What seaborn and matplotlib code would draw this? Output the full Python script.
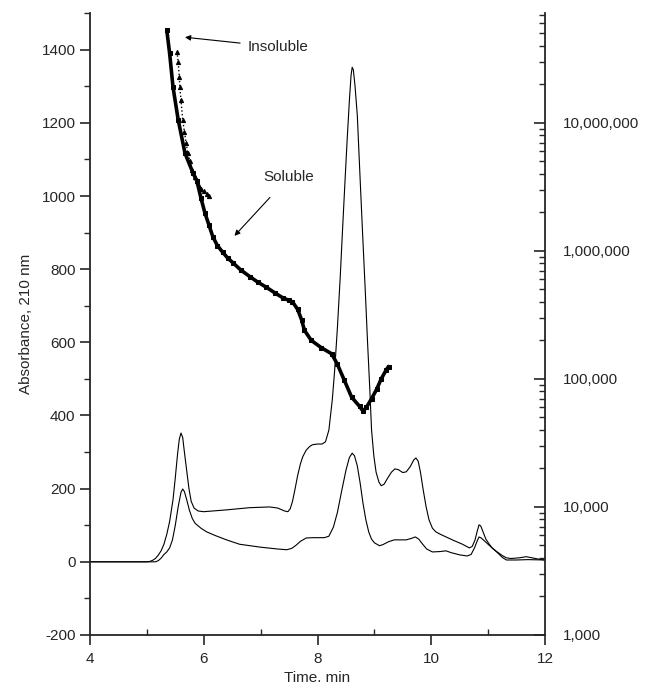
import numpy as np
import pandas as pd
import matplotlib
matplotlib.use("Agg")
import matplotlib.pyplot as plt
from matplotlib.ticker import MultipleLocator, LogLocator, FuncFormatter, NullFormatter
import seaborn as sns

# ---- chromatogram traces (left axis, absorbance 210 nm) ----
upper_time = [4.0, 5.0, 5.05, 5.1, 5.15, 5.2, 5.25, 5.3, 5.35, 5.4, 5.46, 5.5, 5.54, 5.57, 5.6,
              5.63, 5.66, 5.7, 5.74, 5.78, 5.83, 5.9, 6.0, 6.4, 6.81, 7.16, 7.3, 7.42, 7.48,
              7.52, 7.56, 7.6, 7.65, 7.7, 7.74, 7.8, 7.86, 7.91, 8.0, 8.08, 8.14, 8.2, 8.26,
              8.3, 8.35, 8.4, 8.44, 8.48, 8.52, 8.56, 8.59, 8.61, 8.63, 8.66, 8.7, 8.75, 8.79,
              8.84, 8.88, 8.92, 8.95, 8.99, 9.03, 9.08, 9.12, 9.17, 9.23, 9.3, 9.36, 9.42, 9.5,
              9.56, 9.63, 9.69, 9.73, 9.77, 9.81, 9.86, 9.91, 9.96, 10.02, 10.08, 10.15, 10.26,
              10.4, 10.55, 10.67, 10.72, 10.77, 10.81, 10.84, 10.87, 10.91, 10.96, 11.02, 11.07,
              11.15, 11.25, 11.32, 11.4, 11.55, 11.67, 11.8, 11.9, 12.0]
upper_abs = [0, 0, 1, 4, 9, 18, 30, 48, 75, 110, 170, 230, 295, 335, 352,
             340, 300, 250, 200, 165, 147, 139, 137, 142, 148, 150, 147, 139, 137,
             145, 165, 195, 235, 268, 287, 305, 315, 320, 322, 322, 328, 360, 443,
             520, 640, 780, 907, 1030, 1150, 1260, 1330, 1352, 1345, 1300, 1220, 1044, 907,
             740, 600, 470, 361, 290, 245, 218, 208, 212, 228, 245, 254, 252, 244,
             246, 260, 278, 284, 275, 245, 195, 150, 115, 92, 82, 76, 68,
             58, 48, 38, 42, 60, 85, 101, 98, 82, 62, 48, 38,
             28, 17, 11, 9, 11, 14, 10, 7, 5]

lower_time = [4.0, 5.15, 5.2, 5.25, 5.3, 5.35, 5.4, 5.45, 5.5, 5.55, 5.6, 5.63, 5.66, 5.7, 5.75,
              5.8, 5.85, 5.95, 6.05, 6.2, 6.4, 6.63, 7.0, 7.3, 7.46, 7.55, 7.62, 7.7, 7.8, 7.91,
              8.12, 8.2, 8.28, 8.35, 8.42, 8.5, 8.56, 8.61, 8.65, 8.7, 8.75, 8.8, 8.85, 8.9, 8.95,
              9.0, 9.09, 9.15, 9.25, 9.35, 9.45, 9.56, 9.65, 9.72, 9.78, 9.85, 9.92, 10.02, 10.15,
              10.26, 10.35, 10.5, 10.63, 10.7, 10.76, 10.81, 10.84, 10.88, 10.95, 11.02, 11.07,
              11.15, 11.25, 11.32, 11.5, 11.7, 12.0]
lower_abs = [0, 0, 3, 10, 20, 27, 38, 60, 100, 150, 190, 199, 192, 170, 140,
             118, 105, 92, 82, 72, 60, 48, 40, 35, 33, 37, 45, 56, 65, 66,
             66, 70, 95, 135, 190, 250, 285, 297, 290, 262, 215, 160, 115, 82, 62,
             52, 44, 47, 55, 60, 60, 60, 64, 68, 62, 48, 35, 27, 28,
             30, 25, 19, 16, 20, 38, 58, 68, 65, 55, 45, 38,
             27, 12, 5, 5, 6, 5]

# ---- molecular weight points (right axis, log scale) ----
soluble_time = [5.35, 5.40, 5.46, 5.55, 5.67, 5.81, 5.88, 5.95, 6.02, 6.09, 6.16, 6.24, 6.33,
                6.42, 6.51, 6.65, 6.81, 6.95, 7.1, 7.25, 7.39, 7.5, 7.56, 7.65, 7.72, 7.77,
                7.89, 8.07, 8.25, 8.35, 8.47, 8.6, 8.74, 8.8, 8.86, 8.95, 9.04, 9.12, 9.21, 9.25]
soluble_mw = [5.3e7, 3.5e7, 1.9e7, 1.06e7, 5.8e6, 4.07e6, 3.5e6, 2.6e6, 1.98e6, 1.6e6, 1.29e6,
              1.1e6, 9.8e5, 8.8e5, 8.1e5, 7.1e5, 6.3e5, 5.7e5, 5.2e5, 4.7e5, 4.3e5, 4.1e5,
              4.0e5, 3.5e5, 2.9e5, 2.4e5, 2.0e5, 1.75e5, 1.57e5, 1.3e5, 9.8e4, 7.2e4, 6.1e4,
              5.6e4, 6.0e4, 7.0e4, 8.3e4, 1.0e5, 1.18e5, 1.25e5]

insoluble_time = [5.53, 5.55, 5.57, 5.58, 5.60, 5.63, 5.66, 5.69, 5.72, 5.76, 5.80, 5.84, 5.88,
                  5.92, 5.96, 6.00, 6.05, 6.10]
insoluble_mw = [3.6e7, 3.0e7, 2.3e7, 1.9e7, 1.5e7, 1.06e7, 8.5e6, 7.0e6, 5.8e6, 5.0e6, 4.3e6,
                3.8e6, 3.5e6, 3.2e6, 3.05e6, 2.95e6, 2.8e6, 2.7e6]

x_ticks = [4, 6, 8, 10, 12]
left_ticks = [-200, 0, 200, 400, 600, 800, 1000, 1200, 1400]
right_ticks = [1e3, 1e4, 1e5, 1e6, 1e7]

sns.set_style("ticks")
plt.rcParams["font.family"] = ["Liberation Sans", "DejaVu Sans"]
plt.rcParams["axes.unicode_minus"] = False

fig = plt.figure(figsize=(6.45, 6.89), dpi=100)
ax = fig.add_axes([0.1395, 0.0784, 0.7055, 0.9026])

up = pd.DataFrame({"t": upper_time, "a": upper_abs})
lo = pd.DataFrame({"t": lower_time, "a": lower_abs})
sns.lineplot(data=up, x="t", y="a", ax=ax, color="black", lw=0.8, sort=False)
sns.lineplot(data=lo, x="t", y="a", ax=ax, color="black", lw=0.8, sort=False)

ax.set_xlim(4, 12)
ax.set_ylim(-200, 1500)
ax.set_xticks(x_ticks)
ax.set_yticks(left_ticks)
ax.xaxis.set_minor_locator(MultipleLocator(1))
ax.yaxis.set_minor_locator(MultipleLocator(100))
ax.tick_params(axis="x", which="major", direction="out", length=7, width=1.2, labelsize=11, pad=5)
ax.tick_params(axis="x", which="minor", direction="in", length=4, width=1.0)
ax.tick_params(axis="y", which="major", direction="out", length=7, width=1.2, labelsize=11)
ax.tick_params(axis="y", which="minor", direction="out", length=4, width=1.0)
ax.set_xlabel("Time. min", fontsize=11)
ax.set_ylabel("Absorbance, 210 nm", fontsize=11, labelpad=6)
for s in ["top", "right"]:
    ax.spines[s].set_visible(False)
ax.spines["left"].set_linewidth(1.3)
ax.spines["bottom"].set_linewidth(1.3)

ax2 = ax.twinx()
sol = pd.DataFrame({"t": soluble_time, "mw": soluble_mw})
ins = pd.DataFrame({"t": insoluble_time, "mw": insoluble_mw})
sns.lineplot(data=sol, x="t", y="mw", ax=ax2, color="black", lw=2.6, marker="s",
             markersize=3.5, markeredgecolor="black", sort=False)
sns.lineplot(data=ins, x="t", y="mw", ax=ax2, color="black", lw=1.0, ls=":", marker="^",
             markersize=3.0, markeredgecolor="black", sort=False)
ax2.set_yscale("log")
ax2.set_ylim(1e3, 7.2e7)
ax2.set_yticks(right_ticks)
ax2.yaxis.set_major_formatter(FuncFormatter(lambda v, p: f"{int(round(v)):,}"))
ax2.yaxis.set_minor_locator(LogLocator(base=10, subs=np.arange(2, 10)))
ax2.yaxis.set_minor_formatter(NullFormatter())
ax2.tick_params(axis="y", which="major", direction="in", length=8, width=1.2, labelsize=11, pad=13)
ax2.tick_params(axis="y", which="minor", direction="in", length=4, width=1.0)
ax2.set_ylabel("")
ax2.set_xlabel("")
for s in ["top", "left", "bottom"]:
    ax2.spines[s].set_visible(False)
ax2.spines["right"].set_linewidth(1.3)

ax.annotate("Insoluble", xy=(5.67, 1434), xytext=(6.77, 1407), fontsize=11,
            ha="left", va="center",
            arrowprops=dict(arrowstyle="-|>", color="black", lw=0.8, mutation_scale=8,
                            shrinkA=3, shrinkB=0))
ax.annotate("Soluble", xy=(6.54, 891), xytext=(7.05, 1052), fontsize=11,
            ha="left", va="center",
            arrowprops=dict(arrowstyle="-|>", color="black", lw=0.8, mutation_scale=8,
                            shrinkA=10, shrinkB=0))

fig.savefig("out.png", dpi=100)
